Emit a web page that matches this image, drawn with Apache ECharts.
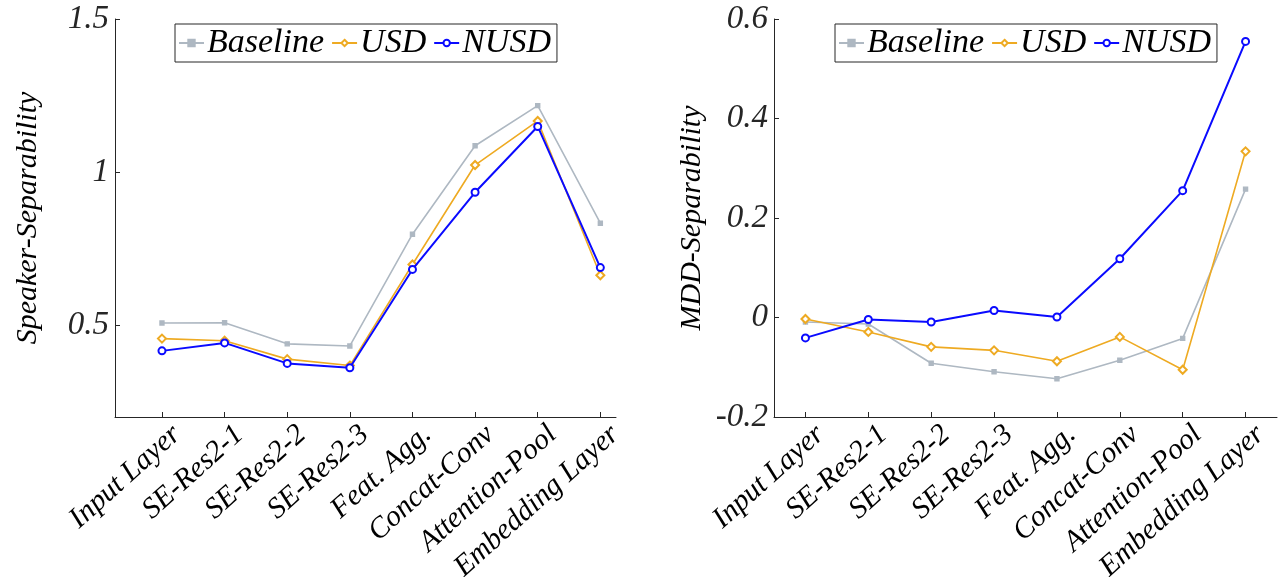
<!DOCTYPE html>
<html>
<head>
<meta charset="utf-8">
<script src="https://cdn.jsdelivr.net/npm/echarts@6/dist/echarts.min.js"></script>
<style>
html,body{margin:0;padding:0;background:#fff;}
#c{width:1278px;height:577px;}
</style>
</head>
<body>
<div id="c"></div>
<script>
var categories = ['Input Layer','SE-Res2-1','SE-Res2-2','SE-Res2-3','Feat. Agg.','Concat-Conv','Attention-Pool','Embedding Layer'];
var seriesNames = ['Baseline','USD','NUSD'];
var baselineSpk = [0.507, 0.508, 0.439, 0.432, 0.797, 1.086, 1.217, 0.833];
var usdSpk      = [0.456, 0.449, 0.389, 0.368, 0.698, 1.023, 1.167, 0.663];
var nusdSpk     = [0.416, 0.442, 0.375, 0.361, 0.682, 0.934, 1.149, 0.688];
var baselineMdd = [-0.009, -0.013, -0.092, -0.109, -0.123, -0.086, -0.042, 0.258];
var usdMdd      = [-0.003, -0.029, -0.059, -0.066, -0.088, -0.039, -0.105, 0.334];
var nusdMdd     = [-0.041, -0.004, -0.009, 0.014, 0.001, 0.118, 0.255, 0.555];
var spkTicks = [0.5, 1, 1.5];
var catPositions = [1,2,3,4,5,6,7,8];

var FONT = '"Liberation Serif", "Times New Roman", Times, serif';
var AXC = '#262626';
var colors = {Baseline:'#aeb8c2', USD:'#eeaa22', NUSD:'#0a0aff'};

function pts(arr){ return arr.map(function(v,i){ return [catPositions[i], v]; }); }

function xAxisCfg(idx, mn, mx){
  return {
    type:'value', gridIndex:idx, min:mn, max:mx,
    axisLine:{show:true, onZero:false, lineStyle:{color:AXC, width:1}},
    splitLine:{show:false},
    axisTick:{show:true, inside:true, length:5, customValues:catPositions, lineStyle:{color:AXC}},
    axisLabel:{show:true, customValues:catPositions, rotate:42, margin:27, padding:[0,-20,0,0],
      fontFamily:FONT, fontStyle:'italic', fontSize:29.5, color:'#000',
      formatter:function(v){ return categories[Math.round(v)-1] || ''; }}
  };
}

function seriesFor(name, data, xi, yi){
  var c = colors[name];
  var sym = name==='Baseline' ? 'rect' : (name==='USD' ? 'emptyDiamond' : 'emptyCircle');
  var size = name==='Baseline' ? 4 : (name==='USD' ? 8 : 7);
  return {
    name:name, type:'line', xAxisIndex:xi, yAxisIndex:yi,
    data:pts(data), symbol:sym, symbolSize:size, showAllSymbol:true,
    lineStyle:{color:c, width: name==='NUSD' ? 2 : 1.6},
    itemStyle:{color:c, borderColor:c, borderWidth:1.4},
    emphasis:{disabled:true}, animation:false, z: name==='NUSD'?4:(name==='USD'?3:2)
  };
}

function legendCfg(left){
  return {
    data:seriesNames, left:left, top:24, orient:'horizontal',
    itemWidth:25, itemHeight:8, itemGap:7,
    padding:[2,6,2,3],
    borderColor:AXC, borderWidth:1, backgroundColor:'#fff',
    textStyle:{fontFamily:FONT, fontStyle:'italic', fontSize:34, color:'#000', lineHeight:32, padding:[0,0,0,-2]}
  };
}

var chart = echarts.init(document.getElementById('c'), null, {renderer:'canvas'});
chart.setOption({
  animation:false,
  backgroundColor:'#fff',
  grid:[
    {left:115, top:19, width:501, height:398, containLabel:false, outerBoundsMode:'none'},
    {left:774, top:19, width:503, height:398, containLabel:false, outerBoundsMode:'none'}
  ],
  legend:[legendCfg(175), legendCfg(835)],
  xAxis:[xAxisCfg(0, 0.25, 8.25), xAxisCfg(1, 0.5, 8.5)],
  yAxis:[
    {type:'value', gridIndex:0, min:0.2, max:1.5,
      name:'Speaker-Separability', nameLocation:'middle', nameGap:72, nameRotate:90,
      nameTextStyle:{fontFamily:FONT, fontStyle:'italic', fontSize:30, color:'#000'},
      axisLine:{show:true, lineStyle:{color:AXC, width:1}},
      splitLine:{show:false},
      axisTick:{show:true, inside:true, length:5, customValues:spkTicks, lineStyle:{color:AXC}},
      axisLabel:{customValues:spkTicks, margin:6, fontFamily:FONT, fontStyle:'italic', fontSize:33, color:AXC,
        formatter:function(v){ return String(v); }}
    },
    {type:'value', gridIndex:1, min:-0.2, max:0.6, interval:0.2,
      name:'MDD-Separability', nameLocation:'middle', nameGap:67, nameRotate:90,
      nameTextStyle:{fontFamily:FONT, fontStyle:'italic', fontSize:30, color:'#000'},
      axisLine:{show:true, lineStyle:{color:AXC, width:1}},
      splitLine:{show:false},
      axisTick:{show:true, inside:true, length:5, lineStyle:{color:AXC}},
      axisLabel:{margin:6, fontFamily:FONT, fontStyle:'italic', fontSize:33, color:AXC,
        formatter:function(v){ return String(Math.round(v*10)/10); }}
    }
  ],
  series:[
    seriesFor('Baseline', baselineSpk, 0, 0),
    seriesFor('USD', usdSpk, 0, 0),
    seriesFor('NUSD', nusdSpk, 0, 0),
    seriesFor('Baseline', baselineMdd, 1, 1),
    seriesFor('USD', usdMdd, 1, 1),
    seriesFor('NUSD', nusdMdd, 1, 1)
  ]
});
</script>
</body>
</html>
